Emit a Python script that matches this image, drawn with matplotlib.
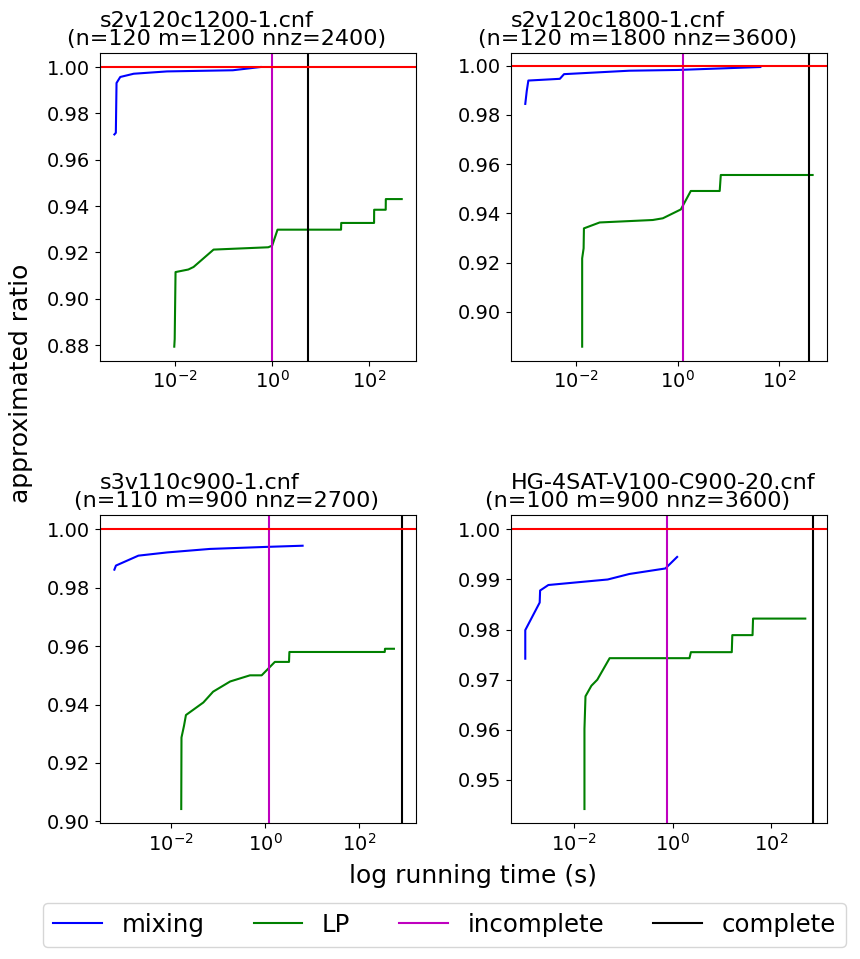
import matplotlib
matplotlib.use("Agg")
import matplotlib.pyplot as plt
from matplotlib.ticker import FixedLocator, NullLocator

# instance names and sizes
names = ["s2v120c1200-1.cnf", "s2v120c1800-1.cnf",
         "s3v110c900-1.cnf", "HG-4SAT-V100-C900-20.cnf"]
sizes = ["(n=120 m=1200 nnz=2400)", "(n=120 m=1800 nnz=3600)",
         "(n=110 m=900 nnz=2700)", "(n=100 m=900 nnz=3600)"]

# mixing method: time (s) and approximated ratio
mix_t = [
    [0.00056, 0.0006, 0.00062, 0.00074, 0.0014, 0.0068, 0.155, 0.575],
    [0.0010, 0.00107, 0.00115, 0.0048, 0.0058, 0.112, 1.0, 42.7],
    [0.00063, 0.00068, 0.00204, 0.0083, 0.0676, 1.08, 6.3],
    [0.00102, 0.00102, 0.002, 0.00204, 0.003, 0.048, 0.132, 0.71, 1.23],
]
mix_r = [
    [0.9709, 0.9716, 0.9931, 0.9957, 0.9971, 0.9981, 0.9986, 1.0000],
    [0.9845, 0.9898, 0.9940, 0.9947, 0.9966, 0.9980, 0.9983, 0.9995],
    [0.9862, 0.9876, 0.9910, 0.9921, 0.9933, 0.9940, 0.9944],
    [0.9742, 0.9799, 0.9854, 0.9878, 0.9889, 0.9900, 0.9911, 0.9922, 0.9945],
]

# LP method: time (s) and approximated ratio
lp_t = [
    [0.0096, 0.0098, 0.0102, 0.0187, 0.024, 0.062, 0.83, 1.0, 1.29,
     26.3, 26.5, 126, 126.5, 219, 220, 468],
    [0.0132, 0.0132, 0.0141, 0.0143, 0.0292, 0.324, 0.513, 1.16, 1.82,
     6.76, 7.1, 457],
    [0.0166, 0.0168, 0.019, 0.0209, 0.049, 0.079, 0.182, 0.479, 0.85,
     1.62, 3.24, 3.3, 351, 355, 550],
    [0.0162, 0.0162, 0.017, 0.0224, 0.0295, 0.0525, 2.19, 2.34, 15.8,
     16.2, 41.7, 42.7, 490],
]
lp_r = [
    [0.8793, 0.8826, 0.9115, 0.9126, 0.9137, 0.9212, 0.9222, 0.9229, 0.9298,
     0.9298, 0.9327, 0.9327, 0.9384, 0.9384, 0.9430, 0.9430],
    [0.8858, 0.9217, 0.9258, 0.9339, 0.9363, 0.9373, 0.9380, 0.9416, 0.9491,
     0.9491, 0.9556, 0.9556],
    [0.9042, 0.9287, 0.9327, 0.9364, 0.9407, 0.9444, 0.9479, 0.9500, 0.9500,
     0.9546, 0.9546, 0.9580, 0.9580, 0.9591, 0.9591],
    [0.9442, 0.9602, 0.9667, 0.9688, 0.9700, 0.9743, 0.9743, 0.9755, 0.9755,
     0.9789, 0.9789, 0.9822, 0.9822],
]

# running times of the incomplete and complete solvers
incomplete_t = [0.97, 1.29, 1.23, 0.76]
complete_t = [5.4, 395, 805, 690]

x_ticks = [1e-2, 1e0, 1e2]


def main():
    fig, axes = plt.subplots(2, 2, figsize=(8.6, 9.59), dpi=100)
    fig.subplots_adjust(left=0.1163, right=0.9616, top=0.9447,
                        bottom=0.1418, wspace=0.30, hspace=0.503)
    for i, ax in enumerate(axes.flat):
        l1, = ax.plot(mix_t[i], mix_r[i], 'b', label="mixing")
        l2, = ax.plot(lp_t[i], lp_r[i], 'g', label="LP")
        l3 = ax.axvline(incomplete_t[i], color='m', label="incomplete")
        l4 = ax.axvline(complete_t[i], color='k', label="complete")
        ax.axhline(1.0, color='r')
        ax.set_xscale('log')
        ax.xaxis.set_major_locator(FixedLocator(x_ticks))
        ax.xaxis.set_minor_locator(NullLocator())
        ax.tick_params(labelsize=14)
        ax.text(0.0, 1.086, names[i], transform=ax.transAxes,
                ha='left', va='baseline', fontsize=16)
        ax.text(0.40, 1.027, sizes[i], transform=ax.transAxes,
                ha='center', va='baseline', fontsize=16)
    fig.text(0.55, 0.0865, "log running time (s)", ha='center',
             va='center', fontsize=18)
    fig.text(0.024, 0.60, "approximated ratio", ha='center', va='center',
             rotation=90, fontsize=18)
    fig.legend([l1, l2, l3, l4], ["mixing", "LP", "incomplete", "complete"],
               loc='lower center', ncol=4, fontsize=17.6,
               bbox_to_anchor=(0.517, 0.0))
    fig.savefig("out.png", dpi=100)


if __name__ == "__main__":
    main()
